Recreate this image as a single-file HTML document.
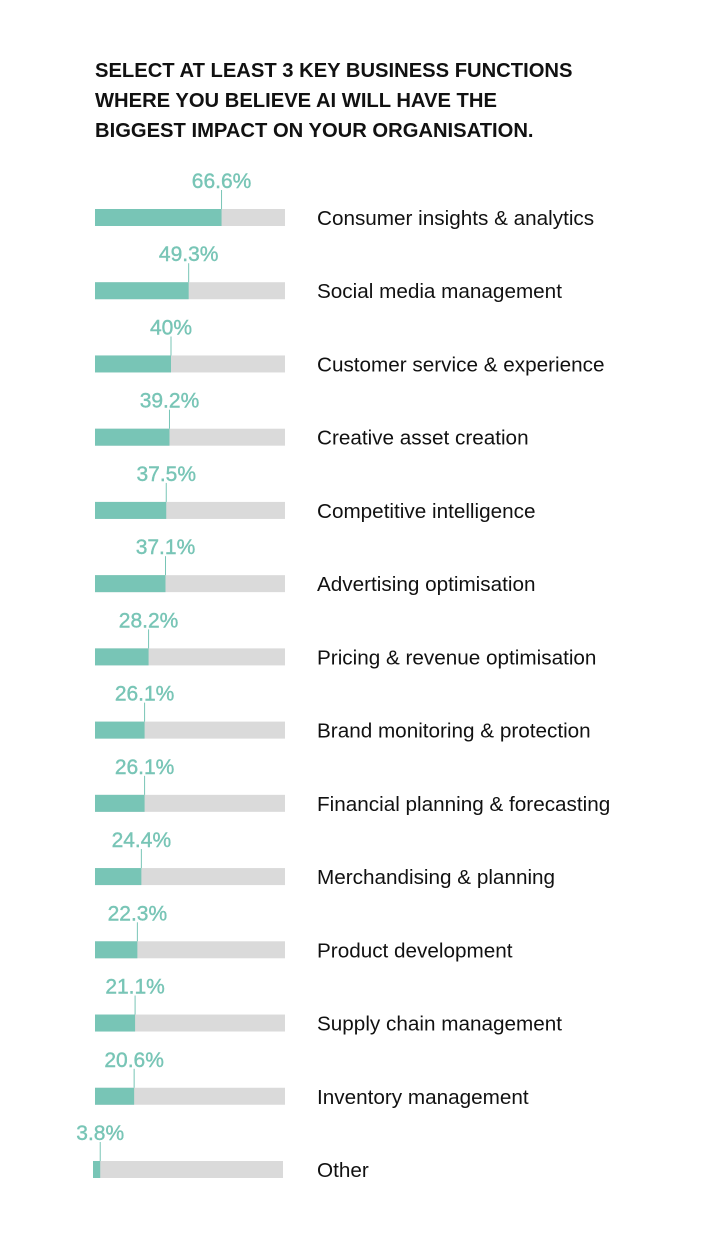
<!DOCTYPE html>
<html><head><meta charset="utf-8"><style>
html,body{margin:0;padding:0;background:#fff;}
svg{display:block;}
</style></head><body>
<svg width="720" height="1234" xmlns="http://www.w3.org/2000/svg" font-family="'Liberation Sans', sans-serif">
<g font-weight="bold" font-size="20.2" fill="#111">
<text x="95" y="77">SELECT AT LEAST 3 KEY BUSINESS FUNCTIONS</text>
<text x="95" y="107">WHERE YOU BELIEVE AI WILL HAVE THE</text>
<text x="95" y="137">BIGGEST IMPACT ON YOUR ORGANISATION.</text>
</g>
<g id="rows"></g>
</svg>
<script>
var d=[[66.6,"Consumer insights & analytics"],[49.3,"Social media management"],[40,"Customer service & experience"],[39.2,"Creative asset creation"],[37.5,"Competitive intelligence"],[37.1,"Advertising optimisation"],[28.2,"Pricing & revenue optimisation"],[26.1,"Brand monitoring & protection"],[26.1,"Financial planning & forecasting"],[24.4,"Merchandising & planning"],[22.3,"Product development"],[21.1,"Supply chain management"],[20.6,"Inventory management"],[3.8,"Other"]];
var g=document.getElementById('rows'),s='';
d.forEach(function(r,i){
 var y=209+i*73.23, x0=(i==13?93:95), w=190, fx=x0+w*r[0]/100;
 s+='<rect x="'+x0+'" y="'+y+'" width="'+w+'" height="17" fill="#dadada"/>';
 s+='<rect x="'+x0+'" y="'+y+'" width="'+(fx-x0)+'" height="17" fill="#78c5b6"/>';
 s+='<line x1="'+fx+'" y1="'+(y-19)+'" x2="'+fx+'" y2="'+y+'" stroke="#78c5b6" stroke-width="1"/>';
 s+='<text x="'+fx+'" y="'+(y-21)+'" text-anchor="middle" font-size="21" fill="#78c5b6" stroke="#78c5b6" stroke-width="0.4">'+r[0]+'%</text>';
 s+='<text x="317" y="'+(y+16)+'" font-size="20.7" fill="#111">'+r[1].replace(/&/g,'&amp;')+'</text>';
});
g.innerHTML=s;
</script>
</body></html>
